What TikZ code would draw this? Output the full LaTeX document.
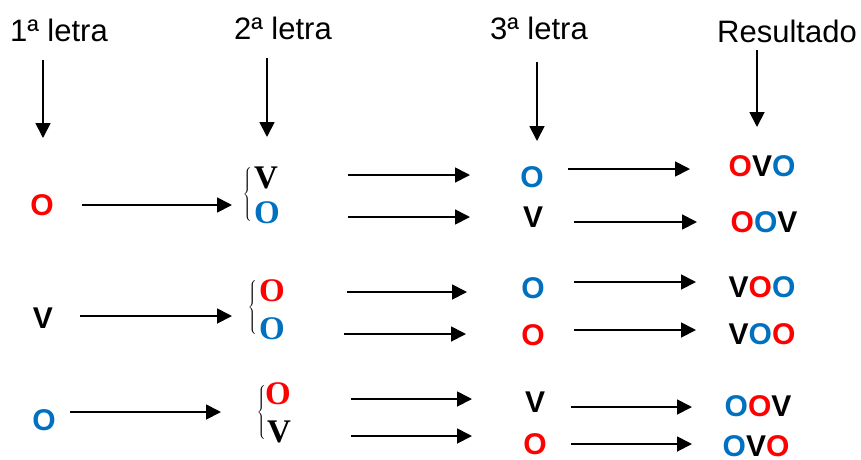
\documentclass[tikz,border=0pt]{standalone}
\usepackage{fontspec}
\setmainfont{Liberation Sans}
\newfontfamily\serifbold{Liberation Serif}
\usetikzlibrary{arrows.meta}
\definecolor{rd}{HTML}{FF0000}
\definecolor{bl}{HTML}{0070C0}
\tikzset{
  hdr/.style={font=\fontsize{31}{31}\selectfont, anchor=base, inner sep=0pt},
  let/.style={font=\fontsize{30}{30}\selectfont\bfseries, inner sep=0pt, text depth=0pt},
  slet/.style={font=\fontsize{33}{33}\selectfont\serifbold\bfseries, inner sep=0pt, text depth=0pt},
  brc/.style={inner sep=0pt},
  arr/.style={line width=1.8pt, -{Triangle[length=15pt,width=15pt]}},
}
\newcommand{\bigbrace}{$\left\{\vrule height 25pt depth 25pt width 0pt\right.$}
\begin{document}
\begin{tikzpicture}[x=1pt,y=-1pt]
\useasboundingbox (0,0) rectangle (861,459);
% headers
\node[hdr] (h1) at (59,41) {1ª letra};
\node[hdr] (h2) at (283,39) {2ª letra};
\node[hdr] (h3) at (539,39) {3ª letra};
\node[hdr] (h4) at (787,42) {Resultado};
\coordinate (v1s) at (43,60);  \coordinate (v1e) at (43,138);
\coordinate (v2s) at (267,58); \coordinate (v2e) at (267,137);
\coordinate (v3s) at (537,62); \coordinate (v3e) at (537,141);
\coordinate (v4s) at (757,50); \coordinate (v4e) at (757,127);
\draw[arr] (v1s) -- (v1e);
\draw[arr] (v2s) -- (v2e);
\draw[arr] (v3s) -- (v3e);
\draw[arr] (v4s) -- (v4e);
% first column
\node[let,text=rd] (a1) at (42,205) {O};
\node[let] (a2) at (43,318) {V};
\node[let,text=bl] (a3) at (44,420) {O};
% braces and second column
\node[brc] (b1) at (248,195) {\bigbrace};
\node[brc] (b2) at (253,308) {\bigbrace};
\node[brc] (b3) at (262,413) {\bigbrace};
\node[slet] (s1a) at (266,178) {V};
\node[slet,text=bl] (s1b) at (267,213) {O};
\node[slet,text=rd] (s2a) at (272,291) {O};
\node[slet,text=bl] (s2b) at (272,329) {O};
\node[slet,text=rd] (s3a) at (278,394) {O};
\node[slet] (s3b) at (279,432) {V};
% third column
\node[let,text=bl] (t1a) at (532,177) {O};
\node[let] (t1b) at (533,217) {V};
\node[let,text=bl] (t2a) at (533,288) {O};
\node[let,text=rd] (t2b) at (533,335) {O};
\node[let] (t3a) at (535,402) {V};
\node[let,text=rd] (t3b) at (535,444) {O};
% results
\node[let] (r1a) at (762,166) {\textcolor{rd}{O}V\textcolor{bl}{O}};
\node[let] (r1b) at (764,222) {\textcolor{rd}{O}\textcolor{bl}{O}V};
\node[let] (r2a) at (762,287) {V\textcolor{rd}{O}\textcolor{bl}{O}};
\node[let] (r2b) at (762,334) {V\textcolor{bl}{O}\textcolor{rd}{O}};
\node[let] (r3a) at (758,406) {\textcolor{bl}{O}\textcolor{rd}{O}V};
\node[let] (r3b) at (756,446) {\textcolor{bl}{O}V\textcolor{rd}{O}};
% arrows first -> second
\coordinate (p1s) at (82,205);  \coordinate (p1e) at (232,205);
\coordinate (p2s) at (80,316);  \coordinate (p2e) at (232,316);
\coordinate (p3s) at (70,412);  \coordinate (p3e) at (221,412);
\draw[arr] (p1s) -- (p1e);
\draw[arr] (p2s) -- (p2e);
\draw[arr] (p3s) -- (p3e);
% arrows second -> third
\coordinate (q1s) at (348,175); \coordinate (q1e) at (470,175);
\coordinate (q2s) at (348,217); \coordinate (q2e) at (470,217);
\coordinate (q3s) at (347,292); \coordinate (q3e) at (467,292);
\coordinate (q4s) at (344,334); \coordinate (q4e) at (466,334);
\coordinate (q5s) at (351,399); \coordinate (q5e) at (472,399);
\coordinate (q6s) at (351,436); \coordinate (q6e) at (472,436);
\draw[arr] (q1s) -- (q1e);
\draw[arr] (q2s) -- (q2e);
\draw[arr] (q3s) -- (q3e);
\draw[arr] (q4s) -- (q4e);
\draw[arr] (q5s) -- (q5e);
\draw[arr] (q6s) -- (q6e);
% arrows third -> result
\coordinate (w1s) at (568,169); \coordinate (w1e) at (690,169);
\coordinate (w2s) at (574,222); \coordinate (w2e) at (697,222);
\coordinate (w3s) at (574,282); \coordinate (w3e) at (696,282);
\coordinate (w4s) at (574,330); \coordinate (w4e) at (696,330);
\coordinate (w5s) at (571,407); \coordinate (w5e) at (692,407);
\coordinate (w6s) at (571,444); \coordinate (w6e) at (692,444);
\draw[arr] (w1s) -- (w1e);
\draw[arr] (w2s) -- (w2e);
\draw[arr] (w3s) -- (w3e);
\draw[arr] (w4s) -- (w4e);
\draw[arr] (w5s) -- (w5e);
\draw[arr] (w6s) -- (w6e);
\end{tikzpicture}
\end{document}
